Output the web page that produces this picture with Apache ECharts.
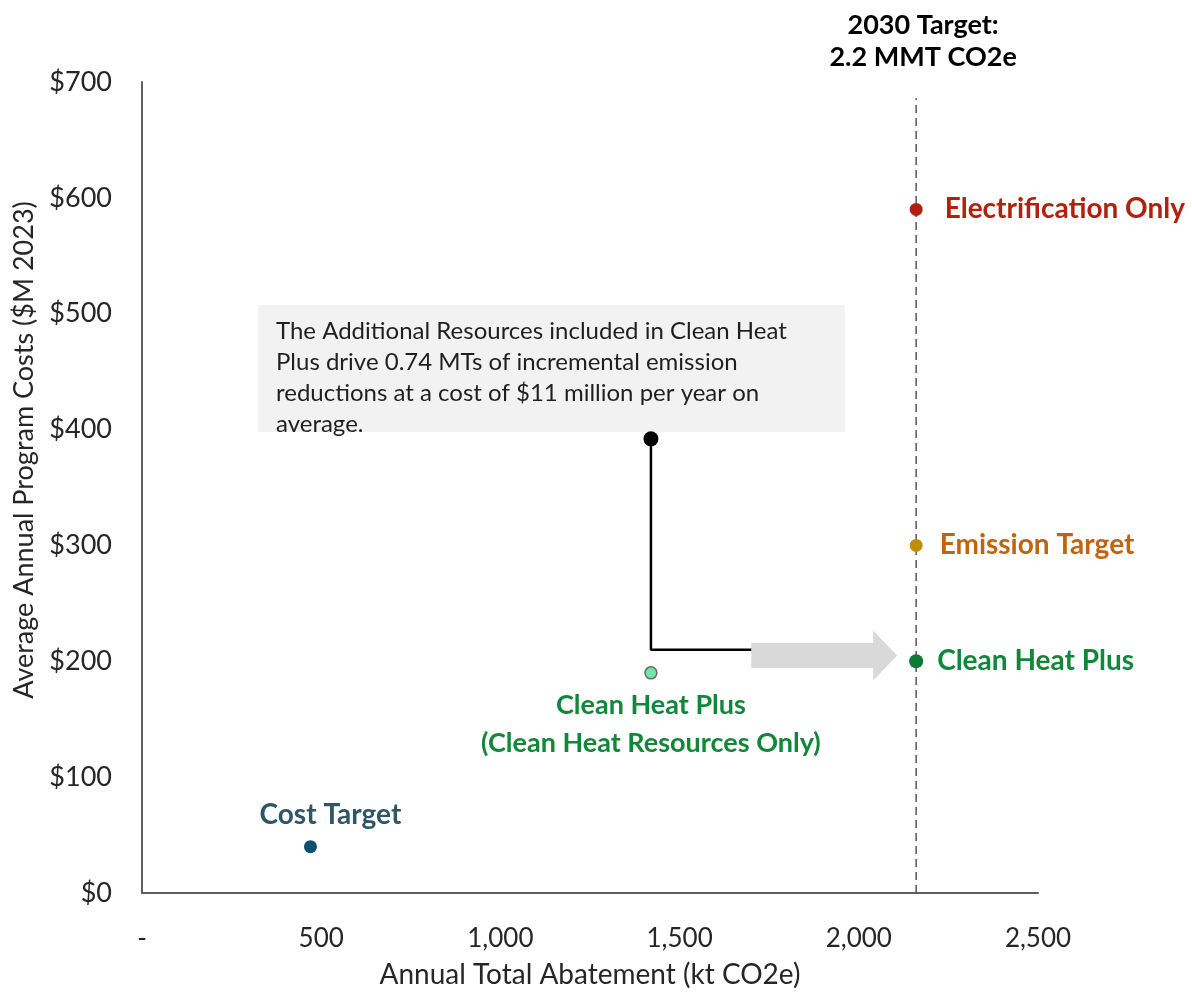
<!DOCTYPE html>
<html>
<head>
<meta charset="utf-8">
<script src="https://cdn.jsdelivr.net/npm/echarts@6/dist/echarts.min.js"></script>
<style>
  html, body { margin: 0; padding: 0; background: #ffffff; }
  #chart { width: 1192px; height: 994px; }
</style>
</head>
<body>
<div id="chart"></div>
<script>
// ---------- data ----------
const xTickLabels = ['-', '500', '1,000', '1,500', '2,000', '2,500'];
const yTickLabels = ['$0', '$100', '$200', '$300', '$400', '$500', '$600', '$700'];

const pointNames = ['Cost Target', 'Clean Heat Plus\n(Clean Heat Resources Only)', 'Clean Heat Plus', 'Emission Target', 'Electrification Only'];
const abatement = [470, 1420, 2160, 2160, 2160];   // kt CO2e
const programCost = [40, 190, 200, 300, 590];       // $M 2023

const additionalPoint = [1420, 392];                // Clean Heat Plus incl. additional resources
const connectorX = [1420, 1420, 1700];
const connectorY = [392, 210, 210];
const arrowFromTo = [1700, 2107];
const arrowLevel = 205;

const targetAbatement = 2160;
const targetLineTop = 686;
const targetLabel = '2030 Target:\n2.2 MMT CO2e';

const noteText = 'The Additional Resources included in Clean Heat\nPlus drive 0.74 MTs of incremental emission\nreductions at a cost of $11 million per year on\naverage.';

// ---------- chart ----------
const FONT = 'Lato, "Open Sans", sans-serif';
const chart = echarts.init(document.getElementById('chart'), null, { renderer: 'canvas' });

const pointStyles = [
  { color: '#0B4F71', border: '#0B4F71', size: 13, labelColor: '#2F5568', pos: 'top', dist: 6, offset: [20, 0], fs: 28 },
  { color: '#6EE7A4', border: '#6B6B6B', size: 12, labelColor: '#12873A', pos: 'bottom', dist: 7, offset: [0, 0], fs: 27 },
  { color: '#0B7A35', border: '#0B7A35', size: 14, labelColor: '#12873A', pos: 'right', dist: 14, offset: [0, 0], fs: 28 },
  { color: '#BF8F00', border: '#BF8F00', size: 13, labelColor: '#C0650F', pos: 'right', dist: 17, offset: [0, 0], fs: 28 },
  { color: '#B02010', border: '#B02010', size: 13, labelColor: '#B3200E', pos: 'right', dist: 22, offset: [0, 0], fs: 28 }
];

const pointSeries = pointNames.map((name, i) => {
  const st = pointStyles[i];
  return {
    type: 'scatter',
    name: name,
    z: 5,
    symbolSize: st.size,
    data: [[abatement[i], programCost[i]]],
    itemStyle: { color: st.color, borderColor: st.border, borderWidth: i === 1 ? 1.5 : 0, opacity: 1 },
    label: {
      show: true,
      formatter: name,
      position: st.pos,
      distance: st.dist,
      offset: st.offset,
      color: st.labelColor,
      fontFamily: FONT,
      fontWeight: 'bold',
      fontSize: st.fs,
      lineHeight: 38,
      align: st.pos === 'right' ? 'left' : 'center'
    }
  };
});

const option = {
  animation: false,
  backgroundColor: '#ffffff',
  grid: { left: 142, right: 154, top: 82, bottom: 101, containLabel: false },
  xAxis: {
    type: 'value',
    min: 0, max: 2500, interval: 500,
    name: 'Annual Total Abatement (kt CO2e)',
    nameLocation: 'middle',
    nameGap: 68,
    nameTextStyle: { fontFamily: FONT, fontSize: 28, color: '#262626' },
    axisLine: { show: true, lineStyle: { color: '#5F5F5F', width: 2 } },
    axisTick: { show: false },
    splitLine: { show: false },
    axisLabel: {
      margin: 33,
      fontFamily: FONT, fontSize: 26, color: '#262626',
      formatter: v => xTickLabels[Math.round(v / 500)]
    }
  },
  yAxis: {
    type: 'value',
    min: 0, max: 700, interval: 100,
    axisLine: { show: true, lineStyle: { color: '#5F5F5F', width: 2 } },
    axisTick: { show: false },
    splitLine: { show: false },
    axisLabel: {
      margin: 30,
      fontFamily: FONT, fontSize: 27, color: '#262626',
      formatter: v => yTickLabels[Math.round(v / 100)]
    }
  },
  graphic: [
    {
      type: 'text',
      x: 24, y: 450,
      rotation: Math.PI / 2,
      style: {
        text: 'Average Annual Program Costs ($M 2023)',
        font: '27px ' + FONT,
        fill: '#262626',
        textAlign: 'center',
        textVerticalAlign: 'middle'
      }
    },
    {
      type: 'rect',
      z: 1,
      shape: { x: 258, y: 305, width: 587, height: 127 },
      style: { fill: '#F2F2F2' }
    },
    {
      type: 'text',
      z: 2,
      x: 276, y: 316,
      style: {
        text: noteText,
        font: '24px ' + FONT,
        fill: '#1F1F1F',
        lineHeight: 31,
        textVerticalAlign: 'top'
      }
    }
  ],
  series: [
    {
      type: 'line',
      name: 'target',
      z: 3,
      symbol: 'none',
      data: [[targetAbatement, 0], [targetAbatement, targetLineTop]],
      lineStyle: { color: '#555555', width: 1.5, type: [8, 5] }
    },
    {
      type: 'scatter',
      name: 'targetLabel',
      symbolSize: 0,
      data: [[targetAbatement, targetLineTop]],
      itemStyle: { opacity: 1 },
      label: {
        show: true,
        position: 'top',
        distance: 25,
        offset: [7, 0],
        formatter: targetLabel,
        fontFamily: FONT,
        fontWeight: 'bold',
        fontSize: 27,
        lineHeight: 32,
        color: '#000000',
        align: 'center'
      }
    },
    {
      type: 'line',
      name: 'connector',
      z: 4,
      symbol: 'none',
      data: connectorX.map((x, i) => [x, connectorY[i]]),
      lineStyle: { color: '#000000', width: 2.5 }
    },
    {
      type: 'custom',
      name: 'arrow',
      z: 4,
      data: [[arrowFromTo[0], arrowFromTo[1], arrowLevel]],
      encode: { x: [0, 1], y: 2 },
      renderItem: (params, api) => {
        const s = api.coord([api.value(0), api.value(2)]);
        const e = api.coord([api.value(1), api.value(2)]);
        const headLen = 24, shaftHalf = 12.5, headHalf = 25;
        const y = s[1];
        const hx = e[0] - headLen;
        return {
          type: 'polygon',
          shape: { points: [[s[0], y - shaftHalf], [hx, y - shaftHalf], [hx, y - headHalf], [e[0], y], [hx, y + headHalf], [hx, y + shaftHalf], [s[0], y + shaftHalf]] },
          style: { fill: '#D9D9D9' }
        };
      }
    },
    {
      type: 'scatter',
      name: 'additional',
      z: 5,
      symbolSize: 15,
      data: [additionalPoint],
      itemStyle: { color: '#000000', opacity: 1 }
    }
  ].concat(pointSeries)
};

chart.setOption(option);
</script>
</body>
</html>
